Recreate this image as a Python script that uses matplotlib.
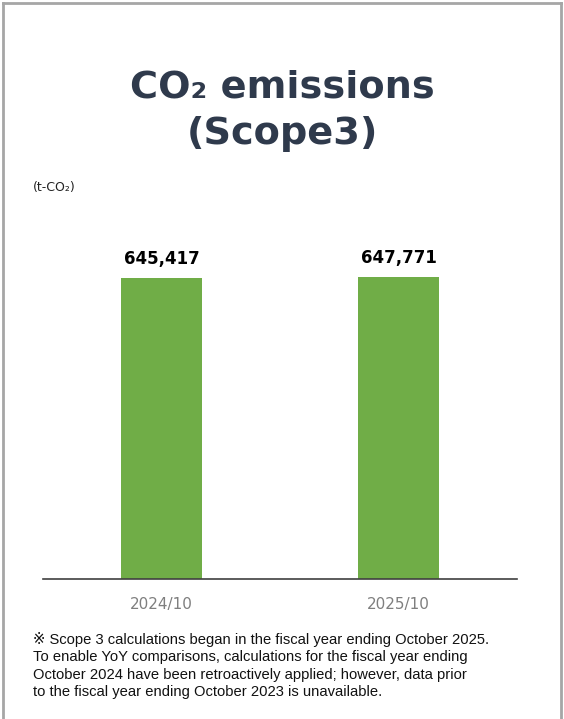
import matplotlib.pyplot as plt
from matplotlib.lines import Line2D

periods = ["2024/10", "2025/10"]
emissions = [645417, 647771]
value_labels = ["645,417", "647,771"]

note = ("※ Scope 3 calculations began in the fiscal year ending October 2025.\n"
        "To enable YoY comparisons, calculations for the fiscal year ending\n"
        "October 2024 have been retroactively applied; however, data prior\n"
        "to the fiscal year ending October 2023 is unavailable.")

W, H = 564, 719
fig = plt.figure(figsize=(W / 100, H / 100), dpi=100)
fig.patch.set_facecolor("white")

# frame: left, top and right edges only
edge = "#a6a6a6"
fig.add_artist(Line2D([2.5 / W, 2.5 / W], [0, 1 - 2.5 / H], transform=fig.transFigure, color=edge, lw=2))
fig.add_artist(Line2D([2.5 / W, 560.5 / W], [1 - 2.5 / H, 1 - 2.5 / H], transform=fig.transFigure, color=edge, lw=2))
fig.add_artist(Line2D([560.5 / W, 560.5 / W], [0, 1 - 2.5 / H], transform=fig.transFigure, color=edge, lw=2))

title_color = "#2f3a4c"
fig.text(0.5, 1 - 88 / H, "CO₂ emissions", ha="center", va="center",
         fontsize=27.5, fontweight="bold", color=title_color)
fig.text(0.5, 1 - 134 / H, "(Scope3)", ha="center", va="center",
         fontsize=27.5, fontweight="bold", color=title_color)
fig.text(33 / W, 1 - 188 / H, "(t-CO₂)", ha="left", va="center",
         fontsize=9, color="#222222")

# axes box: bottom at the baseline, ylim chosen so the bars fill ~302 px
ymax = 800000
bottom_px = 579
height_px = 302 * ymax / emissions[1]
ax = fig.add_axes([43 / W, (H - bottom_px) / H, 474 / W, height_px / H])
x = range(len(periods))
bars = ax.bar(x, emissions, width=0.34, color="#70ad47")
ax.set_xlim(-0.5, 1.5)
ax.set_ylim(0, ymax)
for s in ["top", "left", "right"]:
    ax.spines[s].set_visible(False)
ax.spines["bottom"].set_color("#404040")
ax.spines["bottom"].set_linewidth(1.2)
ax.set_yticks([])
ax.set_xticks(list(x))
ax.set_xticklabels(periods, fontsize=11, color="#7f7f7f")
ax.tick_params(axis="x", length=0, pad=13)

for b, lab in zip(bars, value_labels):
    ax.annotate(lab, (b.get_x() + b.get_width() / 2, b.get_height()),
                xytext=(0, 7), textcoords="offset points",
                ha="center", va="bottom", fontsize=12, fontweight="bold", color="black")

fig.text(33 / W, 1 - 632 / H, note, ha="left", va="top",
         family=["Liberation Sans", "DejaVu Sans"],
         fontsize=10.6, color="#111111", linespacing=1.3)

fig.savefig("out.png", dpi=100)
